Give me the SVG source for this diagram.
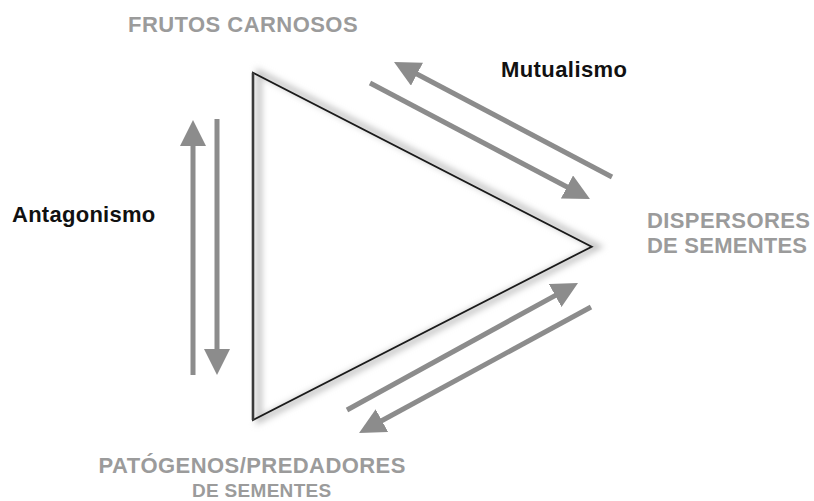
<svg xmlns="http://www.w3.org/2000/svg" width="814" height="501" viewBox="0 0 814 501">
<defs>
<style>
.lbl{font-family:"Liberation Sans",Arial,sans-serif;font-weight:bold;font-size:22px;fill:#9b9b9b}
.rel{font-family:"Liberation Sans",Arial,sans-serif;font-weight:bold;font-size:22px;fill:#111}
.arr{stroke:#8c8c8c;stroke-width:5;fill:none;marker-end:url(#head)}
</style>
<marker id="head" markerUnits="userSpaceOnUse" markerWidth="26" markerHeight="26" refX="5" refY="13" orient="auto">
<path d="M0,0 L26,13 L0,26 z" fill="#8c8c8c"/>
</marker>
<filter id="blur" x="-10%" y="-10%" width="120%" height="120%">
<feGaussianBlur stdDeviation="3"/>
</filter>
</defs>
<rect width="814" height="501" fill="#fff"/>
<g id="triangle">
<polygon points="253,72.7 591.7,246.7 253,420" fill="none" stroke="#c4c4c4" stroke-width="6" filter="url(#blur)" transform="translate(6,0)"/>
<polygon points="253,72.7 591.7,246.7 253,420" fill="none" stroke="#1a1a1a" stroke-width="1.8"/>
<line x1="253" y1="72.7" x2="253" y2="420" stroke="#3a3a3a" stroke-width="2.6"/>
</g>
<g id="connectors">
<line class="arr" x1="612" y1="177" x2="412.6" y2="71.8"/>
<line class="arr" x1="370" y1="83" x2="571.4" y2="189.3"/>
<line class="arr" x1="347" y1="410" x2="559.6" y2="293.1"/>
<line class="arr" x1="591" y1="307" x2="377.5" y2="423"/>
<line class="arr" x1="193" y1="375" x2="193" y2="141"/>
<line class="arr" x1="217" y1="119" x2="217" y2="354"/>
<text class="rel" x="501" y="77" letter-spacing="0.42">Mutualismo</text>
<text class="rel" x="12" y="221.5" letter-spacing="0.27">Antagonismo</text>
</g>
<g id="node-frutos">
<text class="lbl" x="128" y="31.5" letter-spacing="0.45">FRUTOS CARNOSOS</text>
</g>
<g id="node-dispersores">
<text class="lbl" x="647" y="228" letter-spacing="0.4">DISPERSORES</text>
<text class="lbl" x="647" y="253" letter-spacing="0.23">DE SEMENTES</text>
</g>
<g id="node-patogenos">
<text class="lbl" x="98.5" y="473" letter-spacing="0.43">PATÓGENOS/PREDADORES</text>
<text class="lbl" x="192" y="497" style="font-size:19px" letter-spacing="0.3">DE SEMENTES</text>
</g>
</svg>
